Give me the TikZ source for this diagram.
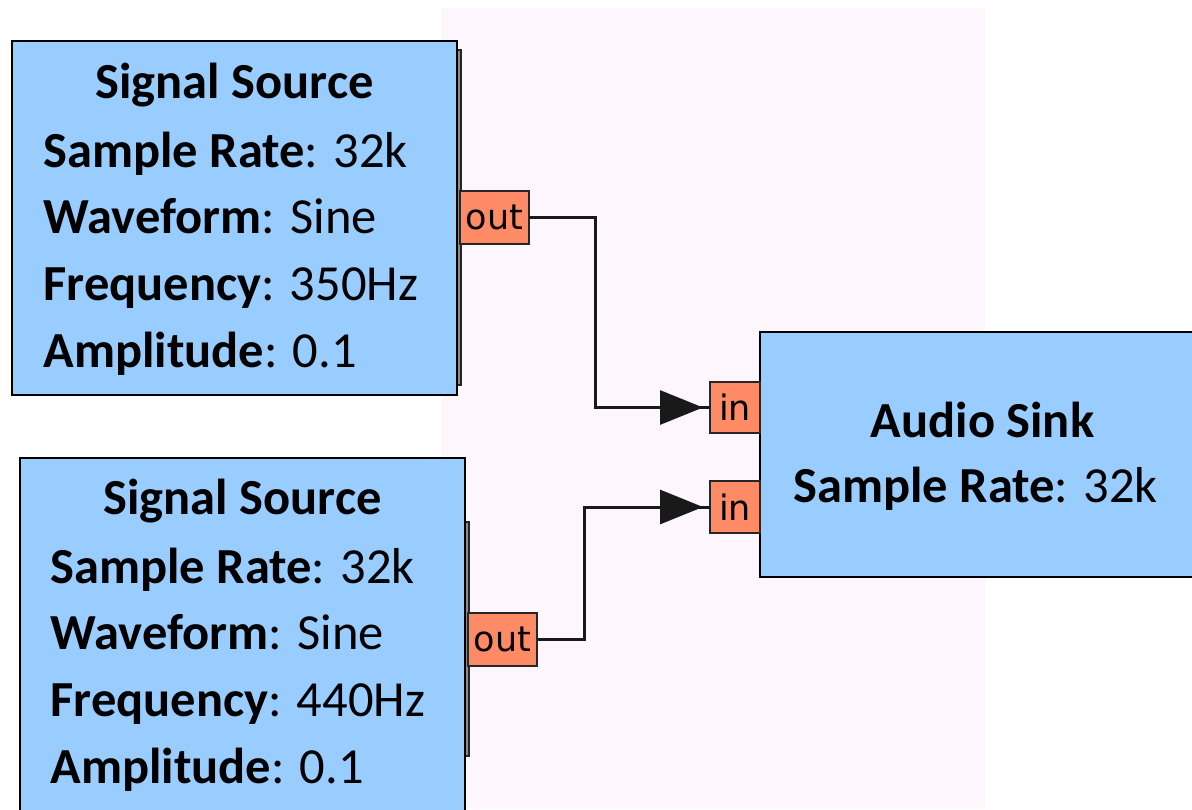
\documentclass[tikz,border=0pt]{standalone}
\usepackage{fontspec}
\setmainfont{Carlito}
\newfontfamily\portfont{DejaVu Sans}
\usetikzlibrary{arrows.meta}
\definecolor{blockblue}{RGB}{153,204,255}
\definecolor{portsalmon}{RGB}{255,138,102}
\definecolor{bgpink}{RGB}{253,246,253}
\definecolor{wirecol}{RGB}{25,25,25}
\newcommand{\portlabel}[1]{{\portfont\fontsize{35}{35}\selectfont #1}}
\begin{document}
\begin{tikzpicture}[x=1pt,y=-1pt,
  block/.style={draw=black,line width=2.6pt,fill=blockblue,inner sep=0pt,outer sep=0pt,anchor=north west},
  strip/.style={draw=black!85,line width=1.6pt,fill=black!45,inner sep=0pt,outer sep=0pt,anchor=north west,minimum width=4pt},
  port/.style={draw=black!85,line width=2.2pt,fill=portsalmon,inner sep=0pt,outer sep=0pt,anchor=north west},
  txt/.style={inner sep=0pt,outer sep=0pt,font=\fontsize{50.5}{60}\selectfont},
  wire/.style={draw=wirecol,line width=3pt},
  tip/.style={-{Triangle[length=43pt,width=34pt]},shorten >=7pt}
]
\useasboundingbox (0,0) rectangle (1192,809);
\fill[bgpink] (442,8) rectangle (985,809);

% strips behind blocks
\node[strip,minimum height=335pt] (strip1) at (457,50) {};
\node[strip,minimum height=234pt] (strip2) at (465,522) {};

% blocks
\node[block,minimum width=445pt,minimum height=354pt] (src1) at (12,41) {};
\node[block,minimum width=445pt,minimum height=370pt] (src2) at (20,458) {};
\node[block,minimum width=445pt,minimum height=245pt] (sink) at (760,332) {};

% ports
\node[port,minimum width=69pt,minimum height=53pt] (out1) at (460,191) {\portlabel{out}};
\node[port,minimum width=69pt,minimum height=53pt] (out2) at (468,613) {\portlabel{out}};
\node[port,minimum width=50pt,minimum height=51pt] (in1) at (710,382) {\portlabel{in}};
\node[port,minimum width=50pt,minimum height=52pt] (in2) at (710,481) {\portlabel{in}};

% texts block 1
\node[txt,anchor=base] (t1) at (234.5,98) {\bfseries Signal Source};
\node[txt,anchor=base west] (t1a) at (43.5,167) {\textbf{Sample Rate}: 32k};
\node[txt,anchor=base west] (t1b) at (43.5,233.5) {\textbf{Waveform}: Sine};
\node[txt,anchor=base west] (t1c) at (43.5,300) {\textbf{Frequency}: 350Hz};
\node[txt,anchor=base west] (t1d) at (43.5,367) {\textbf{Amplitude}: 0.1};

% texts block 2
\node[txt,anchor=base] (t2) at (242.5,514) {\bfseries Signal Source};
\node[txt,anchor=base west] (t2a) at (50.5,583) {\textbf{Sample Rate}: 32k};
\node[txt,anchor=base west] (t2b) at (50.5,649.5) {\textbf{Waveform}: Sine};
\node[txt,anchor=base west] (t2c) at (50.5,716) {\textbf{Frequency}: 440Hz};
\node[txt,anchor=base west] (t2d) at (50.5,783) {\textbf{Amplitude}: 0.1};

% texts sink
\node[txt,anchor=base] (t3) at (982.5,437) {\bfseries Audio Sink};
\node[txt,anchor=base west] (t3a) at (793.5,502) {\textbf{Sample Rate}: 32k};

% wires
\draw[wire] (out1.east) -- ++(66,0) |- (in1.west);
\draw[wire,tip] ([xshift=-60pt]in1.west) -- (in1.west);
\draw[wire] (out2.east) -- ++(47,0) |- (in2.west);
\draw[wire,tip] ([xshift=-60pt]in2.west) -- (in2.west);
\end{tikzpicture}
\end{document}
